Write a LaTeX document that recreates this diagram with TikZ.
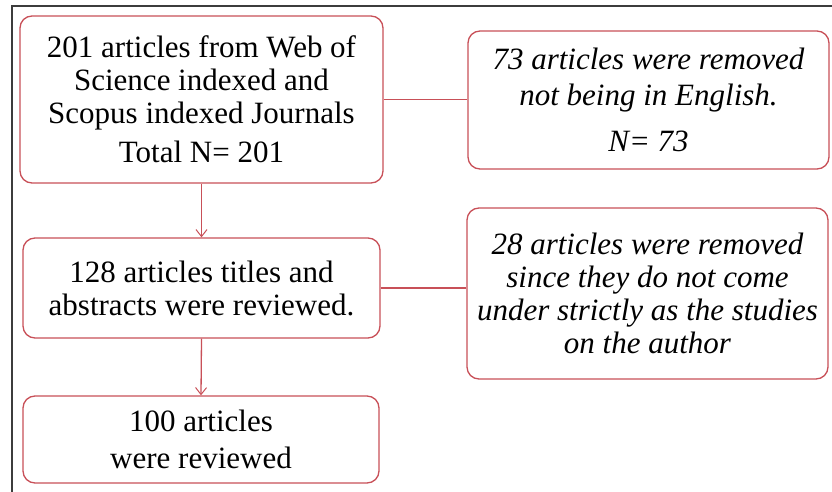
\documentclass[tikz,border=0pt]{standalone}
\usepackage{fontspec}
\setmainfont{Liberation Serif}
\usetikzlibrary{arrows.meta}
\definecolor{boxred}{RGB}{200,80,88}
\definecolor{framegray}{RGB}{60,60,60}
\tikzset{
  flowbox/.style={draw=boxred, line width=1.3pt, rounded corners=12pt, inner sep=0pt,
    align=center, font=\fontsize{31}{33}\selectfont, text=black},
  conn/.style={draw=boxred, line width=1.3pt},
  arr/.style={conn, -{Straight Barb[length=7pt,width=11pt,line width=1pt]}}
}
\begin{document}
\begin{tikzpicture}[x=1pt,y=-1pt]
\useasboundingbox (0,0) rectangle (832,492);
\draw[framegray, line width=1.3pt] (12,492) -- (12,6) -- (832,6);
\node[flowbox, minimum width=363pt, minimum height=167pt] (b1) at (201.5,99.5)
  {201 articles from Web of\\Science indexed and\\Scopus indexed Journals\\[6pt]Total N= 201};
\node[flowbox, minimum width=361pt, minimum height=138pt, font=\fontsize{31}{36}\selectfont\itshape] (b2) at (648.5,100)
  {73 articles were removed\\not being in English.\\[10pt]N= 73};
\node[flowbox, minimum width=357pt, minimum height=100pt] (b3) at (201.5,288)
  {128 articles titles and\\abstracts were reviewed.};
\node[flowbox, minimum width=361pt, minimum height=171pt, font=\fontsize{31}{33}\selectfont\itshape] (b4) at (647.5,293.5)
  {28 articles were removed\\since they do not come\\under strictly as the studies\\on the author};
\node[flowbox, minimum width=356pt, minimum height=87pt, font=\fontsize{31}{37}\selectfont] (b5) at (201,439.5)
  {100 articles\\were reviewed};
\draw[conn] (b1.east) -- (b1.east -| b2.west);
\draw[conn] (b3.east) -- (b3.east -| b4.west);
\draw[arr] (b1.south) -- (b3.north);
\draw[arr] (b3.south) -- (b5.north);
\end{tikzpicture}
\end{document}
